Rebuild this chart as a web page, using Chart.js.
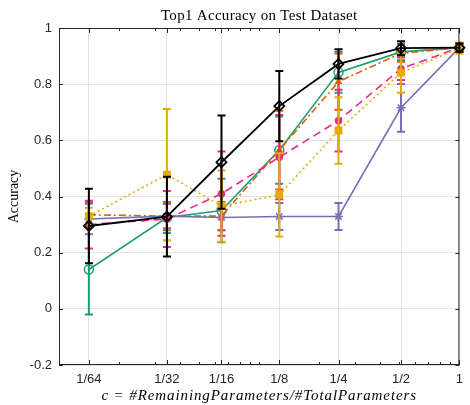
<!DOCTYPE html>
<html>
<head>
<meta charset="utf-8">
<script src="https://cdn.jsdelivr.net/npm/chart.js@4.4.1/dist/chart.umd.min.js"></script>
<style>
    html, body { margin: 0; padding: 0; background: #fff; }
    #wrap { width: 470px; height: 405px; }
</style>
</head>
<body>
<div id="wrap"><canvas id="acc-chart" width="470" height="405"></canvas></div>
<script>
// Fraction of parameters kept (log axis) and the labels shown under each
const xValues = [0.0141, 0.0346, 0.0648, 0.126, 0.249, 0.511, 1];
const xTickLabels = ['1/64', '1/32', '1/16', '1/8', '1/4', '1/2', '1'];
const yTickLabels = ['-0.2', '0', '0.2', '0.4', '0.6', '0.8', '1'];

// Mean top1 accuracy and spread per pruning ratio
const greenAcc = [0.14, 0.325, 0.35, 0.565, 0.842, 0.915, 0.93];
const greenErr = [0.16, 0.055, 0.113, 0.12, 0.073, 0.03, 0.015];

const orangeAcc = [0.335, 0.33, 0.33, 0.565, 0.809, 0.91, 0.93];
const orangeErr = [0.045, 0.05, 0.05, 0.14, 0.10, 0.03, 0.015];

const purpleAcc = [0.32, 0.33, 0.325, 0.329, 0.329, 0.716, 0.93];
const purpleErr = [0.054, 0.043, 0.045, 0.048, 0.048, 0.085, 0.015];

const magentaAcc = [0.30, 0.32, 0.41, 0.54, 0.67, 0.855, 0.93];
const magentaErr = [0.085, 0.10, 0.15, 0.15, 0.11, 0.04, 0.015];

const yellowAcc = [0.33, 0.478, 0.366, 0.406, 0.635, 0.841, 0.928];
const yellowErr = [0.03, 0.234, 0.127, 0.148, 0.118, 0.072, 0.02];

const blackAcc = [0.295, 0.328, 0.522, 0.722, 0.872, 0.928, 0.93];
const blackErr = [0.133, 0.142, 0.166, 0.125, 0.052, 0.025, 0.015];

const chartTitle = 'Top1 Accuracy on Test Dataset';
const xAxisTitle = 'c = #RemainingParameters/#TotalParameters';

const AXIS_COLOR = '#262626';
const GRID_COLOR = '#e2e2e2';

function toPoints(acc) {
    return acc.map((v, i) => ({ x: xValues[i], y: v }));
}

function series(acc, err, color, opts) {
    return Object.assign({
        data: toPoints(acc),
        errors: err,
        borderColor: color,
        backgroundColor: color,
        pointBorderColor: color,
        pointBackgroundColor: color,
        borderWidth: 1.6,
        pointBorderWidth: 1.5,
        pointRadius: 4,
        tension: 0,
        fill: false,
        clip: false
    }, opts);
}

// Vertical error bars with caps, drawn right under each dataset's own line
const errorBars = {
    id: 'errorBars',
    beforeDatasetDraw(chart, args) {
        const ds = chart.data.datasets[args.index];
        if (!ds.errors) return;
        const { ctx, scales: { x, y } } = chart;
        const cap = 4;
        ctx.save();
        ctx.strokeStyle = ds.borderColor;
        ctx.lineWidth = 2;
        ctx.setLineDash([]);
        ds.data.forEach((p, i) => {
            const px = x.getPixelForValue(p.x);
            const top = y.getPixelForValue(p.y + ds.errors[i]);
            const bot = y.getPixelForValue(p.y - ds.errors[i]);
            ctx.beginPath();
            ctx.moveTo(px, top);
            ctx.lineTo(px, bot);
            ctx.moveTo(px - cap, top);
            ctx.lineTo(px + cap, top);
            ctx.moveTo(px - cap, bot);
            ctx.lineTo(px + cap, bot);
            ctx.stroke();
        });
        ctx.restore();
    }
};

// Box around the plot with inward ticks, plus log minor ticks on x
const frame = {
    id: 'frame',
    beforeDatasetsDraw(chart) {
        const { ctx, chartArea: a, scales: { x, y } } = chart;
        ctx.save();
        ctx.strokeStyle = AXIS_COLOR;
        ctx.lineWidth = 1;
        ctx.beginPath();

        const xTick = (v, len) => {
            const px = Math.round(x.getPixelForValue(v)) + 0.5;
            ctx.moveTo(px, a.bottom);
            ctx.lineTo(px, a.bottom - len);
            ctx.moveTo(px, a.top);
            ctx.lineTo(px, a.top + len);
        };
        xValues.forEach(v => xTick(v, 5));
        [0.01, 0.1].forEach(decade => {
            for (let k = 1; k <= 9; k++) xTick(decade * k, 3);
        });

        y.ticks.forEach(t => {
            const py = Math.round(y.getPixelForValue(t.value)) + 0.5;
            ctx.moveTo(a.left, py);
            ctx.lineTo(a.left + 4, py);
            ctx.moveTo(a.right, py);
            ctx.lineTo(a.right - 4, py);
        });
        ctx.stroke();

        ctx.strokeRect(a.left + 0.5, a.top + 0.5, a.right - a.left - 1, a.bottom - a.top - 1);
        ctx.restore();
    }
};

// Title and x label, centred over the plot box rather than the canvas
const captions = {
    id: 'captions',
    afterDraw(chart) {
        const { ctx, chartArea: a } = chart;
        const cx = (a.left + a.right) / 2;
        ctx.save();
        ctx.fillStyle = '#000';
        ctx.textAlign = 'center';
        ctx.textBaseline = 'middle';

        ctx.font = '15px "Liberation Serif"';
        ctx.letterSpacing = '0.3px';
        ctx.fillText(chartTitle, cx, 16);

        ctx.font = 'italic 15px "Liberation Serif"';
        ctx.letterSpacing = '0.9px';
        ctx.fillText(xAxisTitle, cx, 396);
        ctx.restore();
    }
};

const ctx = document.getElementById('acc-chart').getContext('2d');
const chart = new Chart(ctx, {
    type: 'line',
    data: {
        datasets: [
            series(blackAcc, blackErr, '#000000', {
                order: 0, pointStyle: 'rectRot', pointRadius: 5,
                pointBackgroundColor: 'rgba(0,0,0,0)', pointBorderWidth: 1.8, borderWidth: 1.8
            }),
            series(yellowAcc, yellowErr, '#e6ab02', {
                order: 1, pointStyle: 'rect', pointRadius: 4.5, borderDash: [2, 3]
            }),
            series(magentaAcc, magentaErr, '#e7298a', {
                order: 2, pointStyle: 'circle', pointRadius: 3, borderDash: [8, 5]
            }),
            series(purpleAcc, purpleErr, '#7570b3', {
                order: 3, pointStyle: 'star', pointRadius: 4.5
            }),
            series(orangeAcc, orangeErr, '#d95f02', {
                order: 4, pointStyle: 'triangle', pointRadius: 3, borderDash: [7, 3, 2, 3]
            }),
            series(greenAcc, greenErr, '#1b9e77', {
                order: 5, pointStyle: 'circle', pointRadius: 4.5,
                pointBackgroundColor: 'rgba(0,0,0,0)'
            })
        ]
    },
    options: {
        responsive: false,
        devicePixelRatio: 1,
        animation: false,
        layout: {
            autoPadding: false,
            padding: { left: 0, right: 2, top: 28, bottom: 0 }
        },
        plugins: {
            legend: { display: false },
            tooltip: { enabled: false },
            title: { display: false }
        },
        scales: {
            x: {
                type: 'logarithmic',
                min: 0.01,
                max: 1,
                afterBuildTicks: (scale) => {
                    scale.ticks = xValues.map(v => ({ value: v }));
                },
                afterFit: (scale) => { scale.height = 40; },
                ticks: {
                    autoSkip: false,
                    maxRotation: 0,
                    padding: 7,
                    color: AXIS_COLOR,
                    font: { family: 'Liberation Sans', size: 13 },
                    callback: (value, index) => xTickLabels[index]
                },
                grid: { color: GRID_COLOR, drawTicks: false },
                border: { display: false }
            },
            y: {
                min: -0.2,
                max: 1,
                afterFit: (scale) => { scale.width = 59; },
                ticks: {
                    stepSize: 0.2,
                    padding: 7,
                    color: AXIS_COLOR,
                    font: { family: 'Liberation Sans', size: 13 },
                    callback: (value, index) => yTickLabels[index]
                },
                grid: { color: GRID_COLOR, drawTicks: false },
                border: { display: false },
                title: {
                    display: true,
                    text: 'Accuracy',
                    color: '#000',
                    font: { family: 'Liberation Serif', size: 14, lineHeight: 1.2 },
                    padding: { top: 5.6, bottom: 0 }
                }
            }
        }
    },
    plugins: [frame, errorBars, captions]
});
</script>
</body>
</html>
